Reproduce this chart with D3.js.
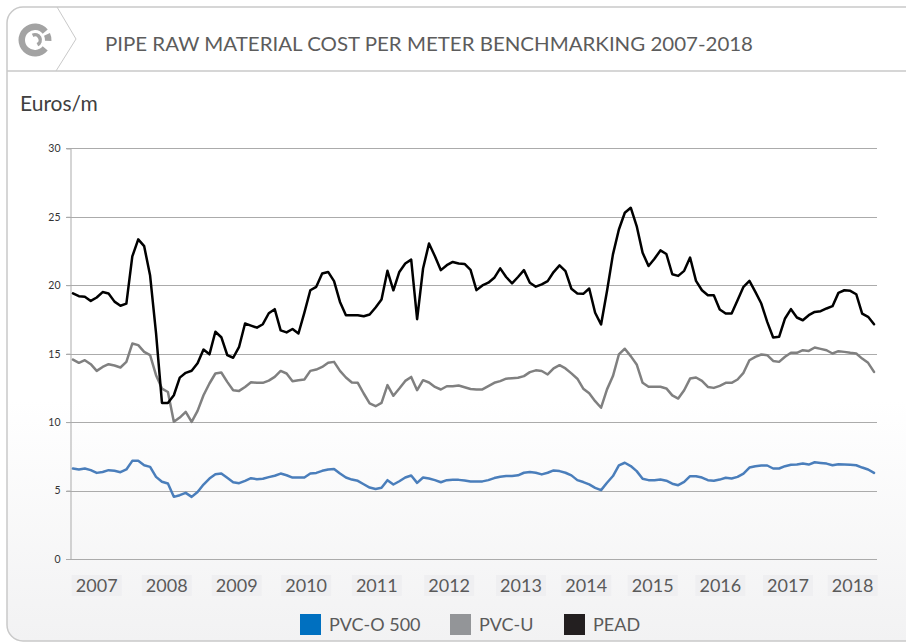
<!DOCTYPE html>
<html>
<head>
<meta charset="utf-8">
<script src="https://cdn.jsdelivr.net/npm/d3@7"></script>
<style>
  html, body { margin: 0; padding: 0; background: #ffffff; }
  svg { display: block; }
  text { font-family: Lato, "Open Sans", sans-serif; }
</style>
</head>
<body>
<svg id="chart" width="906" height="643"></svg>
<script>
// ---------------- DATA ----------------
const title = "PIPE RAW MATERIAL COST PER METER BENCHMARKING 2007-2018";
const unitLabel = "Euros/m";
const seriesNames = ["PVC-O 500", "PVC-U", "PEAD"];
const yTicks = [0, 5, 10, 15, 20, 25, 30];
const yearLabels = ["2007","2008","2009","2010","2011","2012","2013","2014","2015","2016","2017","2018"];
// position of each year label, in month-index units of the data
const yearLabelAt = [4, 15.8, 27.6, 39.3, 51.2, 63.4, 75.5, 86.5, 97.7, 109.1, 120.5, 131.4];

const pvcO = [
 6.61,6.54,6.61,6.49,6.29,6.36,6.49,6.44,6.34,6.54,
 7.17,7.17,6.85,6.73,6.00,5.64,5.51,4.54,4.66,4.83,
 4.54,4.90,5.44,5.88,6.19,6.24,5.93,5.61,5.54,5.71,
 5.90,5.83,5.86,5.98,6.08,6.24,6.12,5.95,5.95,5.95,
 6.24,6.29,6.44,6.54,6.58,6.24,5.95,5.80,5.71,5.46,
 5.22,5.12,5.20,5.76,5.44,5.68,5.95,6.10,5.56,5.95,
 5.88,5.76,5.61,5.76,5.78,5.78,5.74,5.66,5.67,5.67,
 5.76,5.91,6.01,6.06,6.06,6.11,6.30,6.35,6.30,6.18,
 6.30,6.47,6.42,6.30,6.11,5.76,5.62,5.45,5.20,5.03,
 5.57,6.06,6.84,7.03,6.79,6.42,5.86,5.76,5.76,5.81,
 5.72,5.50,5.39,5.63,6.05,6.05,5.95,5.76,5.71,5.80,
 5.93,5.88,6.00,6.24,6.68,6.78,6.83,6.83,6.61,6.61,
 6.78,6.88,6.90,6.97,6.90,7.07,7.02,6.97,6.85,6.92,
 6.90,6.88,6.85,6.68,6.54,6.29
];
const pvcU = [
 14.57,14.33,14.52,14.23,13.74,14.03,14.23,14.13,13.99,14.40,
 15.74,15.62,15.13,14.89,13.43,12.45,12.20,10.02,10.33,10.75,
 10.02,10.82,11.96,12.82,13.55,13.62,12.94,12.33,12.28,12.57,
 12.91,12.87,12.87,13.03,13.30,13.74,13.55,12.99,13.06,13.11,
 13.74,13.84,14.03,14.33,14.40,13.74,13.26,12.89,12.87,12.09,
 11.36,11.16,11.40,12.70,11.92,12.45,13.01,13.30,12.33,13.06,
 12.89,12.57,12.38,12.62,12.62,12.67,12.55,12.42,12.39,12.39,
 12.63,12.87,12.99,13.17,13.21,13.24,13.36,13.65,13.78,13.73,
 13.48,13.92,14.16,13.92,13.56,13.17,12.44,12.10,11.53,11.05,
 12.39,13.36,14.94,15.36,14.82,14.21,12.87,12.58,12.58,12.58,
 12.46,11.95,11.72,12.33,13.18,13.26,13.01,12.57,12.50,12.65,
 12.87,12.87,13.11,13.60,14.52,14.77,14.94,14.89,14.47,14.40,
 14.77,15.06,15.06,15.25,15.20,15.45,15.35,15.25,15.01,15.18,
 15.13,15.06,15.01,14.64,14.33,13.67
];
const pead = [
 19.40,19.20,19.15,18.85,19.10,19.50,19.40,18.80,18.50,18.65,
 22.10,23.35,22.85,20.70,16.50,11.40,11.40,11.96,13.25,13.60,
 13.75,14.30,15.30,14.95,16.60,16.20,14.90,14.70,15.50,17.20,
 17.05,16.90,17.15,17.95,18.25,16.70,16.55,16.80,16.47,18.00,
 19.63,19.88,20.85,20.97,20.30,18.78,17.80,17.80,17.80,17.73,
 17.86,18.37,18.95,21.05,19.63,20.97,21.58,21.87,17.52,21.22,
 23.04,22.12,21.10,21.46,21.70,21.58,21.55,21.12,19.64,19.98,
 20.18,20.54,21.23,20.60,20.13,20.60,21.10,20.18,19.89,20.06,
 20.30,20.96,21.45,21.03,19.74,19.40,19.37,19.76,17.99,17.13,
 19.57,22.25,24.07,25.29,25.66,24.32,22.37,21.40,21.93,22.54,
 22.28,20.80,20.68,21.05,22.02,20.32,19.63,19.27,19.27,18.22,
 17.93,17.93,18.90,19.88,20.32,19.51,18.66,17.32,16.18,16.23,
 17.57,18.25,17.64,17.44,17.81,18.05,18.10,18.30,18.47,19.44,
 19.63,19.59,19.34,17.93,17.69,17.15
];

// ---------------- STYLE ----------------
const lineColors = ["#4a7ebb", "#808080", "#000000"];
const legendColors = ["#0070c0", "#939598", "#231f20"];
const textGray = "#5a5a5a";

const svg = d3.select("#chart");
const W = 906, H = 643;

// background gradient for card
const defs = svg.append("defs");
const grad = defs.append("linearGradient").attr("id", "cardBg")
  .attr("x1", 0).attr("y1", 0).attr("x2", 0).attr("y2", 1);
grad.append("stop").attr("offset", "0%").attr("stop-color", "#ffffff");
grad.append("stop").attr("offset", "62%").attr("stop-color", "#ffffff");
grad.append("stop").attr("offset", "100%").attr("stop-color", "#f2f2f3");

// card
svg.append("path")
  .attr("d", "M 920 7 H 23 A 16 16 0 0 0 7 23 V 625 A 16 16 0 0 0 23 641 H 920 Z")
  .attr("fill", "url(#cardBg)")
  .attr("stroke", "#c9c9c9").attr("stroke-width", 1.5);
// header separator
svg.append("line").attr("x1", 7).attr("x2", W).attr("y1", 71).attr("y2", 71)
  .attr("stroke", "#c9c9c9").attr("stroke-width", 1.5);
// chevron
svg.append("path").attr("d", "M 57 7 L 76 39 L 56 71")
  .attr("fill", "none").attr("stroke", "#c9c9c9").attr("stroke-width", 1);

// logo
const logo = svg.append("g").attr("transform", "translate(35,40)");
logo.append("path")
  .attr("d", d3.arc()({innerRadius: 10, outerRadius: 16.5, startAngle: Math.PI * 0.72, endAngle: Math.PI * 2.28}))
  .attr("fill", "#a3a3a3");
logo.append("path")
  .attr("d", d3.arc()({innerRadius: 3.5, outerRadius: 7, startAngle: -Math.PI * 0.15, endAngle: Math.PI * 0.85}))
  .attr("fill", "#a3a3a3");
logo.append("path")
  .attr("d", d3.arc()({innerRadius: 10, outerRadius: 16.5, startAngle: Math.PI * 0.36, endAngle: Math.PI * 0.52}))
  .attr("fill", "#a3a3a3");

// title
svg.append("text")
  .attr("x", 105).attr("y", 51)
  .attr("font-size", 20)
  .attr("fill", "#5c5c5c")
  .attr("textLength", 648).attr("lengthAdjust", "spacingAndGlyphs")
  .text(title);

// unit label
svg.append("text")
  .attr("x", 20).attr("y", 111)
  .attr("font-size", 21)
  .attr("fill", "#404040")
  .text(unitLabel);

// ---------------- SCALES ----------------
const n = pead.length;
const x = d3.scaleLinear().domain([-0.5, n - 0.5]).range([70, 877]);
const y = d3.scaleLinear().domain([0, 30]).range([559, 148.3]);

// grid
const grid = svg.append("g");
grid.selectAll("line").data(yTicks).join("line")
  .attr("x1", 66).attr("x2", 877)
  .attr("y1", d => Math.round(y(d)) + 0.5).attr("y2", d => Math.round(y(d)) + 0.5)
  .attr("stroke", "#ababab").attr("stroke-width", 1);

// y axis
const yAxis = svg.append("g").attr("transform", "translate(70.5,0)")
  .call(d3.axisLeft(y).tickValues(yTicks).tickSize(4).tickPadding(6).tickFormat(d3.format("d")));
yAxis.select(".domain").attr("stroke", "#ababab");
yAxis.selectAll(".tick line").attr("stroke", "#ababab");
yAxis.selectAll(".tick text").attr("font-family", "Lato, sans-serif").attr("font-size", 10.5).attr("fill", "#333");

// lines
const series = [pvcO, pvcU, pead];
const lineGen = d3.line().x((d, i) => x(i)).y(d => y(d)).curve(d3.curveLinear);
svg.append("g").selectAll("path").data(series).join("path")
  .attr("d", d => lineGen(d))
  .attr("fill", "none")
  .attr("stroke", (d, i) => lineColors[i])
  .attr("stroke-width", 2.5)
  .attr("stroke-linejoin", "round")
  .attr("stroke-linecap", "round");

// year labels
const yl = svg.append("g").selectAll("g").data(yearLabels).join("g")
  .attr("transform", (d, i) => `translate(${x(yearLabelAt[i])},0)`);
yl.append("rect").attr("x", -25).attr("y", 575).attr("width", 50).attr("height", 21)
  .attr("fill", "#efeff1");
yl.append("text").attr("x", 0).attr("y", 592)
  .attr("text-anchor", "middle").attr("font-size", 18).attr("fill", textGray)
  .text(d => d);

// legend
const legendX = [300, 450, 564];
const lg = svg.append("g").selectAll("g").data(seriesNames).join("g")
  .attr("transform", (d, i) => `translate(${legendX[i]},614)`);
lg.append("rect").attr("x", 0).attr("y", 0).attr("width", 21).attr("height", 21)
  .attr("fill", (d, i) => legendColors[i]);
lg.append("text").attr("x", 29).attr("y", 17)
  .attr("font-size", 18).attr("fill", textGray)
  .text(d => d);
</script>
</body>
</html>
